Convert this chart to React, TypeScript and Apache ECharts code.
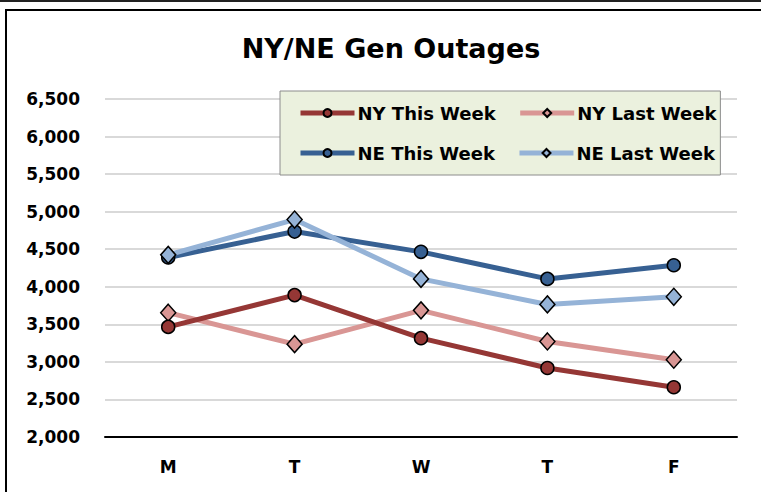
import React, { useEffect, useRef } from "react";
import * as echarts from "echarts";

const categories = ["M", "T", "W", "T", "F"];
const nyThisWeek = [3466, 3889, 3316, 2919, 2663];
const nyLastWeek = [3655, 3236, 3686, 3272, 3029];
const neThisWeek = [4390, 4735, 4465, 4105, 4286];
const neLastWeek = [4425, 4895, 4105, 3765, 3867];
const yMin = 2000;
const yMax = 6500;
const yStep = 500;

const FONT = "'DejaVu Sans', Arial, sans-serif";

export default function App() {
  const ref = useRef<HTMLDivElement>(null);
  useEffect(() => {
    if (!ref.current) return;
    const chart = echarts.init(ref.current, null, { renderer: "svg" });
    const mk = (name: string, data: number[], color: string, symbol: string, size: number | number[], z: number) => ({
      name,
      type: "line",
      data,
      z,
      symbol,
      symbolSize: size,
      showAllSymbol: true,
      lineStyle: { color, width: 5 },
      itemStyle: { color, borderColor: "#000", borderWidth: 1.5 },
      emphasis: { disabled: true },
    });
    chart.setOption({
      animation: false,
      backgroundColor: "#fff",
      textStyle: { fontFamily: FONT },
      graphic: [
        { type: "line", shape: { x1: 0, y1: 1, x2: 761, y2: 1 }, style: { stroke: "#222", lineWidth: 2 } },
        { type: "rect", shape: { x: 6, y: 10, width: 800, height: 600 }, style: { fill: "none", stroke: "#000", lineWidth: 2 } },
      ],
      title: {
        text: "NY/NE Gen Outages",
        left: 386,
        textAlign: "center",
        top: 30,
        textStyle: { fontFamily: FONT, fontWeight: "bold", fontSize: 27, color: "#000" },
      },
      legend: {
        left: 280,
        top: 91,
        width: 450,
        padding: [13, 4, 13, 18],
        itemGap: 22,
        itemWidth: 54,
        itemHeight: 10,
        backgroundColor: "#EBF1DE",
        borderColor: "#8c8c8c",
        borderWidth: 1,
        lineStyle: { width: 5 },
        textStyle: { fontFamily: FONT, fontWeight: "bold", fontSize: 18, color: "#000", padding: [0, 7, 0, -2] },
        data: ["NY This Week", "NY Last Week", "NE This Week", "NE Last Week"],
      },
      grid: { left: 105, right: 24, top: 99, bottom: 55, containLabel: false },
      xAxis: {
        type: "category",
        data: categories,
        boundaryGap: true,
        axisLine: { lineStyle: { color: "#000", width: 2 } },
        axisTick: { show: false },
        axisLabel: { fontFamily: FONT, fontWeight: "bold", fontSize: 17, color: "#000", margin: 21 },
        splitLine: { show: false },
      },
      yAxis: {
        type: "value",
        min: yMin,
        max: yMax,
        interval: yStep,
        axisLine: { show: false },
        axisTick: { show: false },
        axisLabel: {
          fontFamily: FONT,
          fontWeight: "bold",
          fontSize: 17,
          color: "#000",
          margin: 25,
          formatter: (v: number) => v.toLocaleString("en-US"),
        },
        splitLine: { lineStyle: { color: "#d9d9d9", width: 2 } },
      },
      series: [
        mk("NY This Week", nyThisWeek, "#953735", "circle", 13, 3),
        mk("NY Last Week", nyLastWeek, "#D99694", "diamond", [15, 17], 2),
        mk("NE This Week", neThisWeek, "#376092", "circle", 13, 3),
        mk("NE Last Week", neLastWeek, "#95B3D7", "diamond", [15, 17], 4),
      ],
    });
    return () => chart.dispose();
  }, []);
  return <div ref={ref} style={{ width: 761, height: 492, position: "fixed", left: 0, top: 0 }} />;
}
